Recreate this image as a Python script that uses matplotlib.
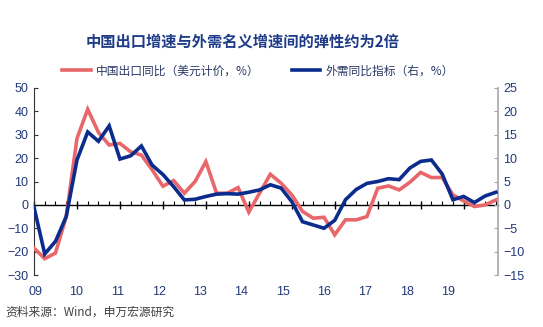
import matplotlib.pyplot as plt
import numpy as np
from matplotlib.ticker import MultipleLocator

plt.rcParams['font.family'] = ['Liberation Sans', 'Noto Sans CJK SC', 'DejaVu Sans']

# quarterly, 2009Q1 - 2019Q4
export_yoy = [-18.5, -23, -20.6, -5, 28.4, 40.9, 31, 25.6, 26.3, 22.7, 21.3, 15,
              8, 10.4, 5, 10, 18.5, 5, 5, 7.4, -3.1, 5, 13.1, 9.3,
              4.3, -2.8, -5.7, -5.3, -12.8, -6.4, -6.4, -5, 7.1, 8.1, 6.4, 9.7,
              13.9, 11.7, 11.7, 4.3, 1.7, -0.7, 0, 2.1]
demand_yoy = [-0.5, -10.5, -7.8, -2.5, 9.6, 15.6, 13.6, 16.9, 9.8, 10.5, 12.6, 8.5,
              6.5, 3.9, 1.05, 1.2, 1.8, 2.3, 2.4, 2.3, 2.7, 3.2, 4.3, 3.6,
              0.7, -3.6, -4.3, -5, -3.3, 1.1, 3.3, 4.6, 5.0, 5.6, 5.4, 7.9,
              9.3, 9.6, 6.6, 1.1, 1.8, 0.5, 1.9, 2.7]
year_labels = ['09', '10', '11', '12', '13', '14', '15', '16', '17', '18', '19']

red = '#E8676A'
blue = '#0B2C8C'
navy = '#22397A'

q = np.arange(len(export_yoy))

fig = plt.figure(figsize=(5.43, 3.27), dpi=100)
ax = fig.add_axes([34 / 543, 1 - 275 / 327, 464 / 543, 187 / 327])
ax2 = ax.twinx()

l1, = ax.plot(q, export_yoy, color=red, lw=2.6, solid_joinstyle='miter', zorder=3)
l2, = ax2.plot(q, demand_yoy, color=blue, lw=2.6, solid_joinstyle='miter', zorder=3)

ax.set_xlim(0, 43.2)
ax.set_ylim(-30, 50)
ax2.set_ylim(-15, 25)
ax.yaxis.set_major_locator(MultipleLocator(10))
ax2.yaxis.set_major_locator(MultipleLocator(5))

for s in ['top', 'right']:
    ax.spines[s].set_visible(False)
for s in ['top', 'left', 'bottom']:
    ax2.spines[s].set_visible(False)
ax.spines['left'].set_color('#333333')
ax.spines['left'].set_linewidth(0.8)
ax2.spines['right'].set_color('#A6A6A6')
ax2.spines['right'].set_linewidth(1.2)

# category axis crossing at zero
ax.spines['bottom'].set_position(('data', 0))
ax.spines['bottom'].set_color('black')
ax.spines['bottom'].set_linewidth(1.0)
ax.xaxis.set_major_locator(MultipleLocator(4))
ax.xaxis.set_minor_locator(MultipleLocator(1))
ax.tick_params(axis='x', which='major', direction='inout', length=6, width=1, labelbottom=False)
ax.tick_params(axis='x', which='minor', direction='in', length=3, width=0.8)

ax.tick_params(axis='y', direction='in', length=3, color='#333333', labelsize=9, labelcolor=navy, pad=4)
ax2.tick_params(axis='y', direction='in', length=3, color='#A6A6A6', labelsize=9, labelcolor=navy, pad=4)

# year labels sit under the plot, on a slightly narrower scale than the ticks
sec = ax.secondary_xaxis('bottom', functions=(lambda x: (10.74 * x - 1) / 41.3,
                                              lambda u: (41.3 * u + 1) / 10.74))
sec.set_xticks(range(len(year_labels)))
sec.set_xticklabels(year_labels)
sec.spines['bottom'].set_visible(False)
sec.tick_params(length=0, labelsize=9, labelcolor=navy, pad=8)

fig.text(243 / 543, 1 - 42 / 327, '中国出口增速与外需名义增速间的弹性约为2倍',
         ha='center', va='center', fontsize=11, fontweight='bold', color='#1F3C88',
         family=['Noto Sans CJK SC', 'DejaVu Sans'])

fig.legend([l1, l2], ['中国出口同比（美元计价，%）', '外需同比指标（右，%）'],
           loc='center', bbox_to_anchor=(258 / 543, 1 - 71 / 327), ncol=2,
           frameon=False, handlelength=2.4, handletextpad=0.4, columnspacing=2.8,
           prop={'family': ['Noto Sans CJK SC', 'DejaVu Sans'], 'size': 8.5},
           labelcolor='#2B3A67')

fig.text(5 / 543, 1 - 312 / 327, '资料来源：Wind，申万宏源研究', ha='left', va='center',
         fontsize=8.5, color='#404040', family=['Noto Sans CJK SC', 'DejaVu Sans'])

fig.savefig('out.png', dpi=100)
